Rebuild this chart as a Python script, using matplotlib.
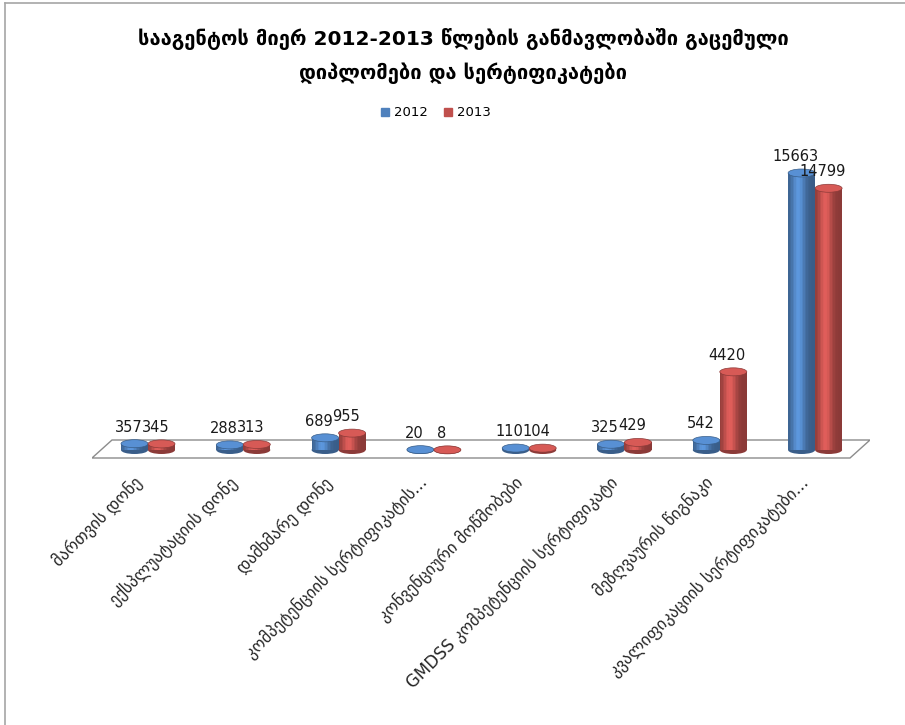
import numpy as np
import matplotlib.pyplot as plt
from matplotlib.patches import Ellipse, Polygon
from matplotlib.lines import Line2D
from matplotlib.colors import to_rgb

plt.rcParams['font.family'] = ['DejaVu Sans']

title = "სააგენტოს მიერ 2012-2013 წლების განმავლობაში გაცემული\nდიპლომები და სერტიფიკატები"
categories = [
    "მართვის დონე",
    "ექსპლუატაციის დონე",
    "დამხმარე დონე",
    "კომპეტენციის სერტიფიკატის...",
    "კონვენციური მოწმობები",
    "GMDSS კომპეტენციის სერტიფიკატი",
    "მეზღვაურის წიგნაკი",
    "კვალიფიკაციის სერტიფიკატები...",
]
years = ["2012", "2013"]
v2012 = [357, 288, 689, 20, 110, 325, 542, 15663]
v2013 = [345, 313, 955, 8, 104, 429, 4420, 14799]
colors = ["#4F81BD", "#C0504D"]

W, H = 905, 725
fig = plt.figure(figsize=(W / 100, H / 100), dpi=100)

# plot area in pixels
px_left, px_right, px_bottom, px_top = 92, 870, 460, 150
floor_y = 450
top_val_px = 173
ax = fig.add_axes([px_left / W, 1 - px_bottom / H,
                   (px_right - px_left) / W, (px_bottom - px_top) / H])
per_px = max(v2012) / (floor_y - top_val_px)
ax.set_ylim(-(px_bottom - floor_y) * per_px, (floor_y - px_top) * per_px)
spacing = 95.3
x0 = 148
ax.set_xlim(-(x0 - px_left) / spacing, (px_right - x0) / spacing)
ax.axis('off')

# floor
fl, fr = ax.get_xlim()
floor = Polygon([(fl, -8 * per_px), (fr - 20 / spacing, -8 * per_px),
                 (fr, 10 * per_px), (fl + 20 / spacing, 10 * per_px)],
                closed=True, facecolor='white', edgecolor='#8c8c8c', lw=1, zorder=0)
ax.add_patch(floor)

bw = 27 / spacing
ell_h = 8 * per_px


def shade(base, t):
    f = 0.72 + 0.45 * np.exp(-((t + 0.25) / 0.5) ** 2)
    return tuple(np.clip(np.array(to_rgb(base)) * f, 0, 1))


def cylinder(xc, h, color, z):
    n = 18
    edges = np.linspace(xc - bw / 2, xc + bw / 2, n + 1)
    mids = (edges[:-1] + edges[1:]) / 2
    ts = (mids - xc) / (bw / 2)
    ax.add_patch(Ellipse((xc, 0), bw, ell_h, facecolor=shade(color, 0.9), lw=0, zorder=z))
    ax.bar(mids, h, width=bw / n * 1.05, color=[shade(color, t) for t in ts], lw=0, zorder=z)
    top = tuple(np.clip(np.array(to_rgb(color)) * 1.12, 0, 1))
    ax.add_patch(Ellipse((xc, h), bw, ell_h, facecolor=top, edgecolor=shade(color, 0.8),
                         lw=0.5, zorder=z + 0.5))


x = np.arange(len(categories))
for i, vals in enumerate([v2012, v2013]):
    for j, v in enumerate(vals):
        xc = x[j] + (i - 0.5) * bw
        cylinder(xc, v, colors[i], 2 + i)
        ax.annotate(str(v), (xc, v), xytext=(-6, 12), textcoords='offset pixels',
                    ha='center', va='baseline', fontsize=10.5, color='#1a1a1a', zorder=10)

# category labels
for j, lab in enumerate(categories):
    ax.annotate(lab, (x[j], 0), xytext=(-9, -30), textcoords='offset pixels',
                rotation=45, rotation_mode='anchor', ha='right', va='center',
                fontsize=12, color='#262626', annotation_clip=False)

fig.text(0.512, 1 - 56 / H, title, ha='center', va='center', fontsize=14.5,
         fontweight='bold', linespacing=1.75)

# legend
handles = [plt.Rectangle((0, 0), 1, 1, color=c) for c in colors]
fig.legend(handles, years, loc='center', bbox_to_anchor=(0.482, 1 - 113 / H), ncol=2,
           frameon=False, fontsize=9.5, handlelength=0.6, handleheight=0.6,
           handletextpad=0.4, columnspacing=1.2)

# chart border
fig.add_artist(Line2D([5 / W, 5 / W], [0, 1 - 3 / H], color='#a6a6a6', lw=1.2))
fig.add_artist(Line2D([5 / W, 1], [1 - 3 / H, 1 - 3 / H], color='#a6a6a6', lw=1.2))

fig.savefig('out.png', dpi=100)
